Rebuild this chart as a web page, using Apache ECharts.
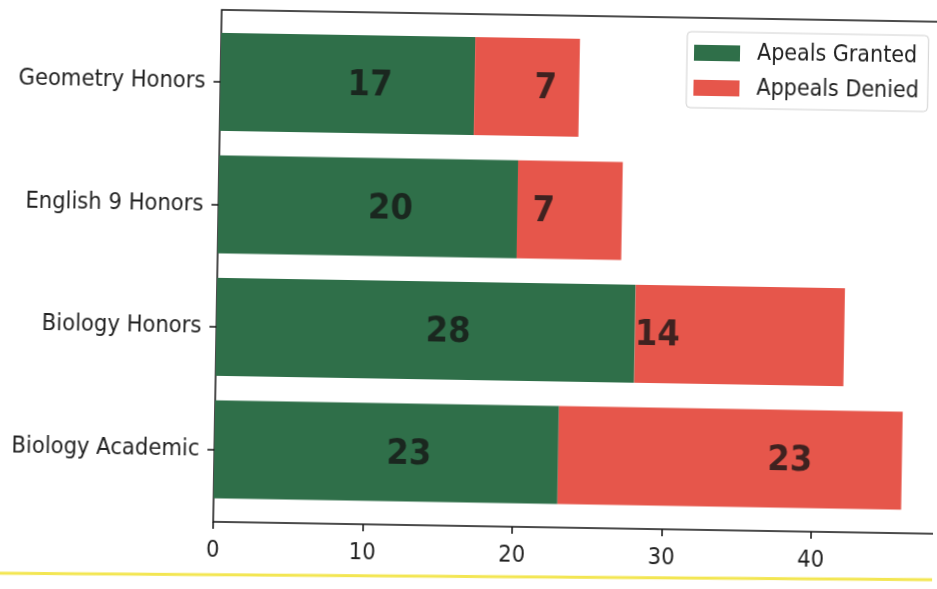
<!DOCTYPE html>
<html>
<head>
<meta charset="utf-8">
<script src="https://cdn.jsdelivr.net/npm/echarts@6/dist/echarts.min.js"></script>
<style>
  html, body { margin: 0; padding: 0; background: #ffffff; overflow: hidden; }
  #chart { width: 937px; height: 589px; transform: rotate(0.95deg); transform-origin: 50% 50%; }
</style>
</head>
<body>
<div id="chart"></div>
<script>
// Course appeal outcomes, top to bottom
const courses = ['Geometry Honors', 'English 9 Honors', 'Biology Honors', 'Biology Academic'];
const granted = [17, 20, 28, 23];
const denied = [7, 7, 14, 23];
const xTicks = [0, 10, 20, 30, 40];
const seriesNames = ['Apeals Granted', 'Appeals Denied'];

const GREEN = '#2f6f49';
const RED = '#e6564b';
const FONT = "'DejaVu Sans Condensed', 'DejaVu Sans', sans-serif";

// Plot spans the data plus 5% headroom
const PLOT_W = 722;
const xMax = Math.max(...granted.map((g, i) => g + denied[i])) * 1.05;

// Text labels are anchored by their left edge
const grantedLabels = granted.map((g, i) => [g / 2, i, g]);
const deniedLabels = denied.map((d, i) => [d + 14, i, d]);

const chart = echarts.init(document.getElementById('chart'), null, { renderer: 'canvas' });

const labelSeries = (data) => ({
  type: 'scatter',
  xAxisIndex: 1,
  yAxisIndex: 1,
  symbolSize: 0,
  silent: true,
  z: 5,
  data: data,
  label: {
    show: true,
    position: 'right',
    distance: 0,
    offset: [0, 2],
    formatter: p => String(p.data[2]),
    fontFamily: FONT,
    fontWeight: 'bold',
    fontSize: 36,
    color: '#151515'
  }
});

chart.setOption({
  animation: false,
  backgroundColor: '#ffffff',
  grid: [
    { left: 217, top: 14, width: PLOT_W, height: 512, outerBoundsMode: 'none', containLabel: false,
      show: true, borderColor: '#111', borderWidth: 1.5, backgroundColor: 'transparent' },
    { left: 217, top: 24.75, width: PLOT_W, height: 490, outerBoundsMode: 'none', containLabel: false }
  ],
  legend: {
    data: seriesNames,
    orient: 'vertical',
    left: 683,
    top: 28,
    padding: [8, 9, 7, 7],
    itemWidth: 46,
    itemHeight: 16,
    itemGap: 9,
    icon: 'rect',
    backgroundColor: '#ffffff',
    borderColor: '#d0d0d0',
    borderWidth: 1,
    borderRadius: 4,
    textStyle: { fontFamily: FONT, fontSize: 23, color: '#222', lineHeight: 26, padding: [0, 0, 0, 12] }
  },
  xAxis: [
    {
      gridIndex: 0, type: 'value', min: 0, max: xMax, interval: 10,
      axisLine: { show: false },
      axisTick: { show: true, length: 7, lineStyle: { color: '#111', width: 1.5 } },
      splitLine: { show: false },
      axisLabel: {
        margin: 17, fontFamily: FONT, fontSize: 23.5, color: '#222', showMaxLabel: false,
        formatter: v => (xTicks.includes(v) ? String(v) : '')
      }
    },
    { gridIndex: 1, type: 'value', min: 0, max: xMax, show: false }
  ],
  yAxis: [
    { gridIndex: 0, type: 'value', show: false },
    {
      gridIndex: 1, type: 'category', data: courses, inverse: true,
      axisLine: { show: false },
      axisTick: { show: true, alignWithLabel: true, length: 7, lineStyle: { color: '#111', width: 1.5 } },
      axisLabel: { margin: 15, padding: [8, 0, 0, 0], fontFamily: FONT, fontSize: 23.5, color: '#222' }
    }
  ],
  series: [
    {
      name: seriesNames[0], type: 'bar', stack: 'total', xAxisIndex: 1, yAxisIndex: 1,
      barWidth: '80%', itemStyle: { color: GREEN }, data: granted
    },
    {
      name: seriesNames[1], type: 'bar', stack: 'total', xAxisIndex: 1, yAxisIndex: 1,
      barWidth: '80%', itemStyle: { color: RED }, data: denied
    },
    labelSeries(grantedLabels),
    labelSeries(deniedLabels)
  ],
  graphic: [
    {
      type: 'line', silent: true,
      shape: { x1: -5, y1: 581, x2: 945, y2: 572 },
      style: { stroke: '#f3e652', lineWidth: 3 }
    }
  ]
});
</script>
</body>
</html>
